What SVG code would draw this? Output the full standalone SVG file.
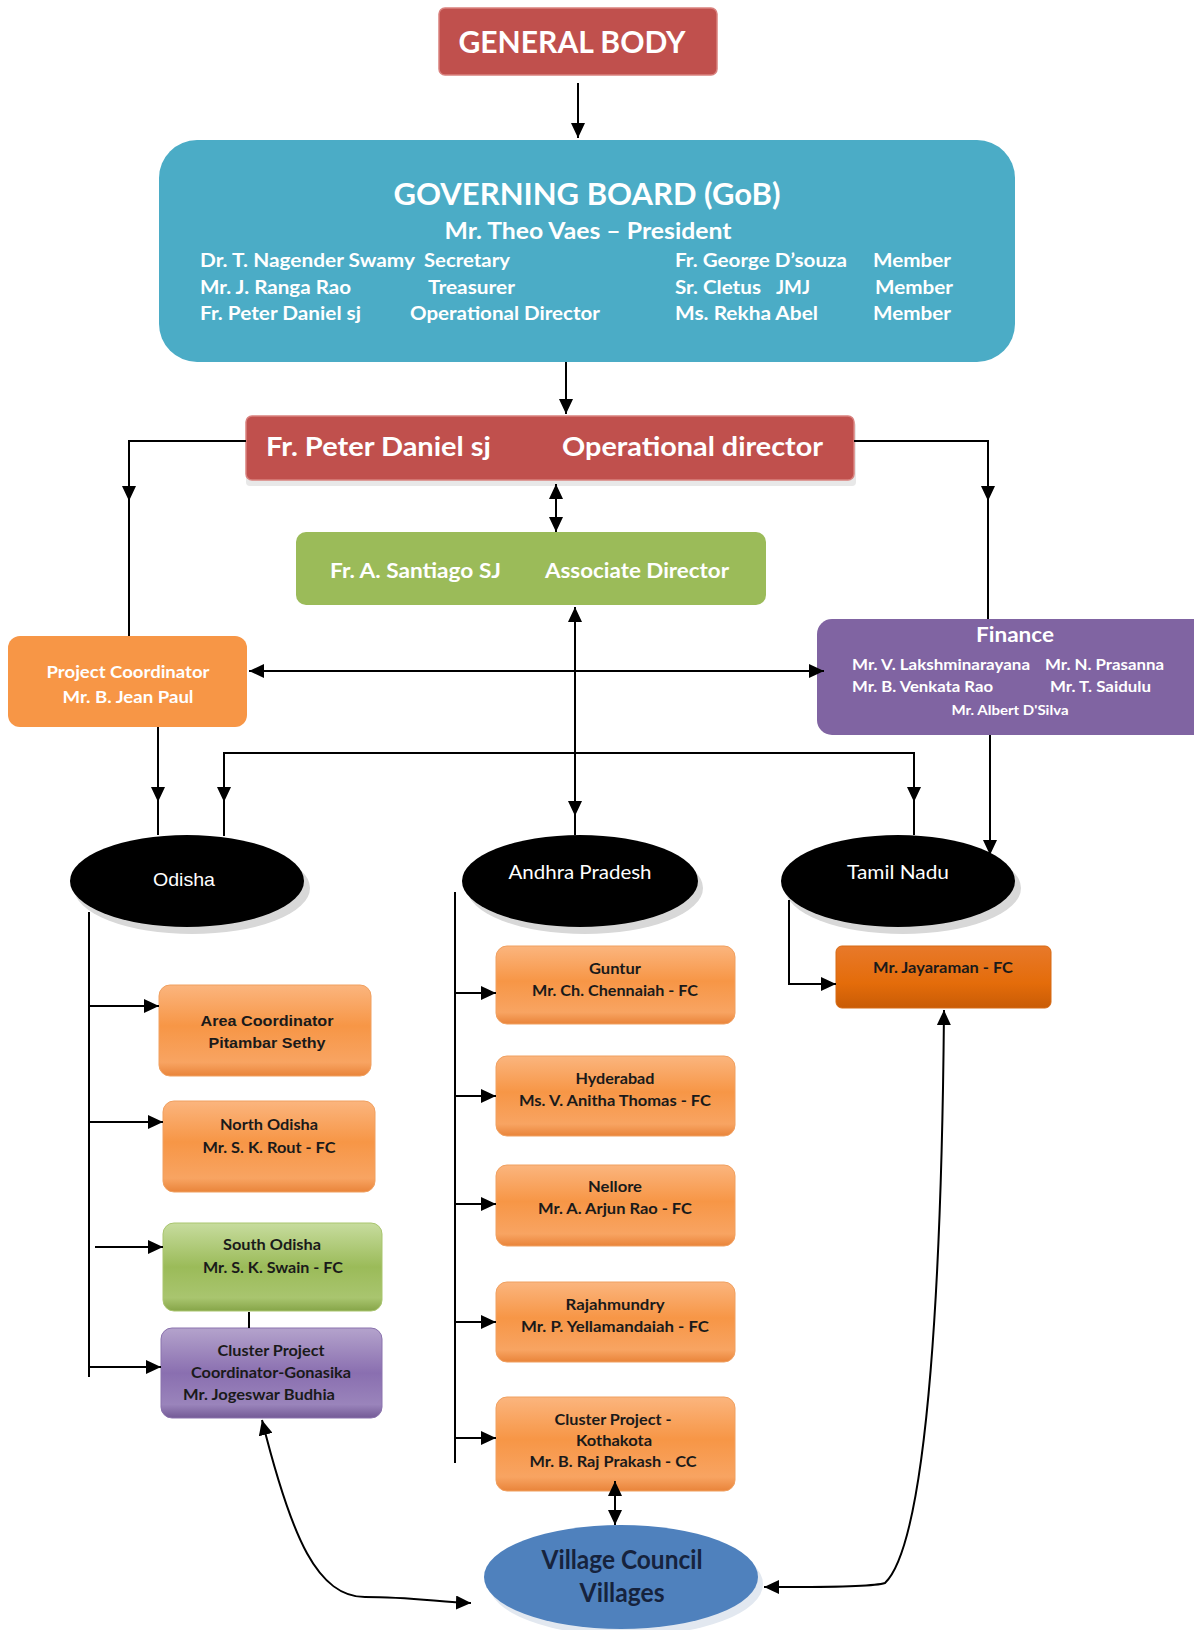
<svg xmlns="http://www.w3.org/2000/svg" width="1194" height="1630" viewBox="0 0 1194 1630">
<style>
.t{font-family:Lato,"Open Sans","Liberation Sans",sans-serif;font-weight:700}
.w{fill:#ffffff}
.k{fill:#1a1a1a}
.a{font-family:"Liberation Sans",Arial,sans-serif}
.c{stroke:#000;stroke-width:2;fill:none}
.arr{marker-end:url(#ah)}
.dbl{marker-start:url(#ah);marker-end:url(#ah)}
.m{text-anchor:middle}
</style>
<defs>
<marker id="ah" markerUnits="userSpaceOnUse" markerWidth="16" markerHeight="14" refX="15" refY="7" orient="auto-start-reverse">
<path d="M0,0 L15,7 L0,14 z" fill="#000"/>
</marker>
<linearGradient id="gOr" x1="0" y1="0" x2="0" y2="1">
<stop offset="0" stop-color="#fbb57e"/><stop offset="0.45" stop-color="#f79646"/><stop offset="0.85" stop-color="#f8a462"/><stop offset="1" stop-color="#e9843a"/>
</linearGradient>
<linearGradient id="gGr" x1="0" y1="0" x2="0" y2="1">
<stop offset="0" stop-color="#c7dc9e"/><stop offset="0.5" stop-color="#9bbb59"/><stop offset="0.85" stop-color="#a9c56f"/><stop offset="1" stop-color="#86a548"/>
</linearGradient>
<linearGradient id="gPu" x1="0" y1="0" x2="0" y2="1">
<stop offset="0" stop-color="#b4a3cc"/><stop offset="0.5" stop-color="#8a6fb0"/><stop offset="0.85" stop-color="#9a84bb"/><stop offset="1" stop-color="#735a96"/>
</linearGradient>
<linearGradient id="gDo" x1="0" y1="0" x2="0" y2="1">
<stop offset="0" stop-color="#e8792a"/><stop offset="0.6" stop-color="#e46c0a"/><stop offset="1" stop-color="#c95c06"/>
</linearGradient>
</defs>

<g id="general-body">
<rect x="439" y="8" width="278" height="67" rx="6" fill="#c0504d" stroke="#d9817e" stroke-width="1.5"/>
<text class="t w m" x="572" y="53" font-size="31" textLength="227" lengthAdjust="spacingAndGlyphs">GENERAL BODY</text>
</g>

<g id="governing-board">
<rect x="159" y="140" width="856" height="222" rx="38" fill="#4bacc6"/>
<text class="t w m" x="587" y="205" font-size="30" textLength="387" lengthAdjust="spacingAndGlyphs">GOVERNING BOARD (GoB)</text>
<text class="t w m" x="588" y="239" font-size="23" textLength="287" lengthAdjust="spacingAndGlyphs">Mr. Theo Vaes – President</text>
<g font-size="19">
<text class="t w" x="200" y="267" textLength="215" lengthAdjust="spacingAndGlyphs">Dr. T. Nagender Swamy</text>
<text class="t w" x="424" y="267" textLength="86" lengthAdjust="spacingAndGlyphs">Secretary</text>
<text class="t w" x="675" y="267" textLength="172" lengthAdjust="spacingAndGlyphs">Fr. George D’souza</text>
<text class="t w" x="873" y="267" textLength="78" lengthAdjust="spacingAndGlyphs">Member</text>
<text class="t w" x="200" y="294" textLength="151" lengthAdjust="spacingAndGlyphs">Mr. J. Ranga Rao</text>
<text class="t w" x="428" y="294" textLength="87" lengthAdjust="spacingAndGlyphs">Treasurer</text>
<text class="t w" x="675" y="294" textLength="86" lengthAdjust="spacingAndGlyphs">Sr. Cletus</text>
<text class="t w" x="776" y="294" textLength="34" lengthAdjust="spacingAndGlyphs">JMJ</text>
<text class="t w" x="875" y="294" textLength="78" lengthAdjust="spacingAndGlyphs">Member</text>
<text class="t w" x="200" y="320" textLength="161" lengthAdjust="spacingAndGlyphs">Fr. Peter Daniel sj</text>
<text class="t w" x="410" y="320" textLength="190" lengthAdjust="spacingAndGlyphs">Operational Director</text>
<text class="t w" x="675" y="320" textLength="143" lengthAdjust="spacingAndGlyphs">Ms. Rekha Abel</text>
<text class="t w" x="873" y="320" textLength="78" lengthAdjust="spacingAndGlyphs">Member</text>
</g>
</g>

<g id="operational-director">
<rect x="246" y="422" width="610" height="64" rx="4" fill="#e8e8e8"/>
<rect x="246" y="416" width="608" height="64" rx="6" fill="#c0504d" stroke="#d9817e" stroke-width="1.5"/>
<text class="t w" x="266" y="456" font-size="27" textLength="225" lengthAdjust="spacingAndGlyphs">Fr. Peter Daniel sj</text>
<text class="t w" x="562" y="456" font-size="27" textLength="261" lengthAdjust="spacingAndGlyphs">Operational director</text>
</g>

<g id="associate-director">
<rect x="296" y="532" width="470" height="73" rx="10" fill="#9bbb59"/>
<text class="t w" x="330" y="578" font-size="21" textLength="171" lengthAdjust="spacingAndGlyphs">Fr. A. Santiago SJ</text>
<text class="t w" x="545" y="578" font-size="21" textLength="184" lengthAdjust="spacingAndGlyphs">Associate Director</text>
</g>

<g id="project-coordinator">
<rect x="8" y="636" width="239" height="91" rx="12" fill="#f79646"/>
<text class="t w m" x="128" y="678" font-size="17" textLength="163" lengthAdjust="spacingAndGlyphs">Project Coordinator</text>
<text class="t w m" x="128" y="703" font-size="17" textLength="131" lengthAdjust="spacingAndGlyphs">Mr. B. Jean Paul</text>
</g>

<g id="finance">
<rect x="817" y="619" width="390" height="116" rx="15" fill="#8064a2"/>
<text class="t w m" x="1015" y="642" font-size="20" textLength="78" lengthAdjust="spacingAndGlyphs">Finance</text>
<text class="t w" x="852" y="670" font-size="15" textLength="178" lengthAdjust="spacingAndGlyphs">Mr. V. Lakshminarayana</text>
<text class="t w" x="1045" y="670" font-size="15" textLength="119" lengthAdjust="spacingAndGlyphs">Mr. N. Prasanna</text>
<text class="t w" x="852" y="692" font-size="15" textLength="141" lengthAdjust="spacingAndGlyphs">Mr. B. Venkata Rao</text>
<text class="t w" x="1050" y="692" font-size="15" textLength="101" lengthAdjust="spacingAndGlyphs">Mr. T. Saidulu</text>
<text class="t w m" x="1010" y="715" font-size="14" textLength="117" lengthAdjust="spacingAndGlyphs">Mr. Albert D'Silva</text>
</g>

<g id="odisha">
<ellipse cx="192" cy="888" rx="118" ry="46" fill="#d8d8d8"/>
<ellipse cx="187" cy="881" rx="117" ry="46" fill="#000"/>
<text class="a w m" x="184" y="886" font-size="19" textLength="62" lengthAdjust="spacingAndGlyphs">Odisha</text>
</g>

<g id="andhra-pradesh">
<ellipse cx="585" cy="888" rx="118" ry="46" fill="#d8d8d8"/>
<ellipse cx="580" cy="881" rx="118" ry="46" fill="#000"/>
<text class="t w m" x="580" y="879" font-size="19" style="font-weight:400" textLength="143" lengthAdjust="spacingAndGlyphs">Andhra Pradesh</text>
</g>

<g id="tamil-nadu">
<ellipse cx="903" cy="888" rx="118" ry="46" fill="#d8d8d8"/>
<ellipse cx="898" cy="881" rx="117" ry="46" fill="#000"/>
<text class="t w m" x="898" y="879" font-size="19" style="font-weight:400" textLength="102" lengthAdjust="spacingAndGlyphs">Tamil Nadu</text>
</g>

<g id="area-coordinator">
<rect x="159" y="985" width="212" height="91" rx="11" fill="url(#gOr)" stroke="#f0a060" stroke-width="1"/>
<text class="a k m" x="267" y="1026" font-size="15" font-weight="700" textLength="133" lengthAdjust="spacingAndGlyphs">Area Coordinator</text>
<text class="a k m" x="267" y="1048" font-size="15" font-weight="700" textLength="117" lengthAdjust="spacingAndGlyphs">Pitambar Sethy</text>
</g>

<g id="north-odisha">
<rect x="163" y="1101" width="212" height="91" rx="11" fill="url(#gOr)" stroke="#f0a060" stroke-width="1"/>
<text class="t k m" x="269" y="1130" font-size="16" textLength="98" lengthAdjust="spacingAndGlyphs">North Odisha</text>
<text class="t k m" x="269" y="1153" font-size="16" textLength="133" lengthAdjust="spacingAndGlyphs">Mr. S. K. Rout - FC</text>
</g>

<g id="south-odisha">
<rect x="163" y="1223" width="219" height="88" rx="11" fill="url(#gGr)" stroke="#a9c56f" stroke-width="1"/>
<text class="t k m" x="272" y="1250" font-size="16" textLength="98" lengthAdjust="spacingAndGlyphs">South Odisha</text>
<text class="t k m" x="273" y="1273" font-size="16" textLength="140" lengthAdjust="spacingAndGlyphs">Mr. S. K. Swain - FC</text>
</g>

<g id="cluster-gonasika">
<rect x="161" y="1328" width="221" height="90" rx="11" fill="url(#gPu)" stroke="#8a72ad" stroke-width="1"/>
<text class="t k m" x="271" y="1356" font-size="16" textLength="107" lengthAdjust="spacingAndGlyphs">Cluster Project</text>
<text class="t k m" x="271" y="1378" font-size="16" textLength="160" lengthAdjust="spacingAndGlyphs">Coordinator-Gonasika</text>
<text class="t k m" x="259" y="1400" font-size="16" textLength="152" lengthAdjust="spacingAndGlyphs">Mr. Jogeswar Budhia</text>
</g>

<g id="guntur">
<rect x="496" y="946" width="239" height="78" rx="11" fill="url(#gOr)" stroke="#f0a060" stroke-width="1"/>
<text class="t k m" x="615" y="974" font-size="16" textLength="52" lengthAdjust="spacingAndGlyphs">Guntur</text>
<text class="t k m" x="615" y="996" font-size="16" textLength="166" lengthAdjust="spacingAndGlyphs">Mr. Ch. Chennaiah - FC</text>
</g>

<g id="hyderabad">
<rect x="496" y="1056" width="239" height="80" rx="11" fill="url(#gOr)" stroke="#f0a060" stroke-width="1"/>
<text class="t k m" x="615" y="1084" font-size="16" textLength="79" lengthAdjust="spacingAndGlyphs">Hyderabad</text>
<text class="t k m" x="615" y="1106" font-size="16" textLength="192" lengthAdjust="spacingAndGlyphs">Ms. V. Anitha Thomas - FC</text>
</g>

<g id="nellore">
<rect x="496" y="1165" width="239" height="81" rx="11" fill="url(#gOr)" stroke="#f0a060" stroke-width="1"/>
<text class="t k m" x="615" y="1192" font-size="16" textLength="54" lengthAdjust="spacingAndGlyphs">Nellore</text>
<text class="t k m" x="615" y="1214" font-size="16" textLength="154" lengthAdjust="spacingAndGlyphs">Mr. A. Arjun Rao - FC</text>
</g>

<g id="rajahmundry">
<rect x="496" y="1282" width="239" height="80" rx="11" fill="url(#gOr)" stroke="#f0a060" stroke-width="1"/>
<text class="t k m" x="615" y="1310" font-size="16" textLength="99" lengthAdjust="spacingAndGlyphs">Rajahmundry</text>
<text class="t k m" x="615" y="1332" font-size="16" textLength="188" lengthAdjust="spacingAndGlyphs">Mr. P. Yellamandaiah - FC</text>
</g>

<g id="cluster-kothakota">
<rect x="496" y="1397" width="239" height="94" rx="11" fill="url(#gOr)" stroke="#f0a060" stroke-width="1"/>
<text class="t k m" x="613" y="1425" font-size="16" textLength="117" lengthAdjust="spacingAndGlyphs">Cluster Project -</text>
<text class="t k m" x="614" y="1446" font-size="16" textLength="76" lengthAdjust="spacingAndGlyphs">Kothakota</text>
<text class="t k m" x="613" y="1467" font-size="16" textLength="167" lengthAdjust="spacingAndGlyphs">Mr. B. Raj Prakash - CC</text>
</g>

<g id="jayaraman">
<rect x="836" y="946" width="215" height="62" rx="6" fill="url(#gDo)" stroke="#d66a14" stroke-width="1"/>
<text class="t k m" x="943" y="973" font-size="16" textLength="140" lengthAdjust="spacingAndGlyphs">Mr. Jayaraman - FC</text>
</g>

<g id="village-council">
<ellipse cx="626" cy="1584" rx="137" ry="52" fill="#e2e8f0"/>
<ellipse cx="621" cy="1577" rx="137" ry="52" fill="#4f81bd"/>
<text class="t m" x="622" y="1569" font-size="27" fill="#16233d" textLength="161" lengthAdjust="spacingAndGlyphs">Village Council</text>
<text class="t m" x="622" y="1602" font-size="27" fill="#16233d" textLength="85" lengthAdjust="spacingAndGlyphs">Villages</text>
</g>

<g id="connectors">
<path class="c arr" d="M578,83 V138"/>
<path class="c arr" d="M566,362 V414"/>
<path class="c arr" d="M246,441 H129 V501"/>
<path class="c" d="M129,500 V636"/>
<path class="c arr" d="M854,441 H988 V501"/>
<path class="c" d="M988,500 V619"/>
<path class="c dbl" d="M556,484 V532"/>
<path class="c dbl" d="M575,607 V816"/>
<path class="c" d="M575,815 V835"/>
<path class="c dbl" d="M249,671 H824"/>
<path class="c arr" d="M158,727 V802"/>
<path class="c" d="M158,801 V835"/>
<path class="c dbl" d="M224,802 V753 H914 V802"/>
<path class="c" d="M224,801 V836"/>
<path class="c" d="M914,801 V835"/>
<path class="c arr" d="M990,735 V855"/>
<path class="c" d="M89,912 V1377"/>
<path class="c arr" d="M89,1006 H159"/>
<path class="c arr" d="M89,1122 H163"/>
<path class="c arr" d="M95,1247 H163"/>
<path class="c arr" d="M89,1367 H161"/>
<path class="c" d="M249,1312 V1328"/>
<path class="c" d="M455,892 V1463"/>
<path class="c arr" d="M455,993 H496"/>
<path class="c arr" d="M455,1096 H496"/>
<path class="c arr" d="M455,1204 H496"/>
<path class="c arr" d="M455,1322 H496"/>
<path class="c arr" d="M455,1438 H496"/>
<path class="c arr" d="M789,900 V984 H836"/>
<path class="c dbl" d="M615,1481 V1525"/>
<path class="c dbl" d="M262,1420 C292,1540 318,1597 365,1597 C410,1597 440,1602 471,1603"/>
<path class="c dbl" d="M944,1010 C942,1250 930,1540 885,1583 C870,1588 800,1587 764,1587"/>
</g>
</svg>
